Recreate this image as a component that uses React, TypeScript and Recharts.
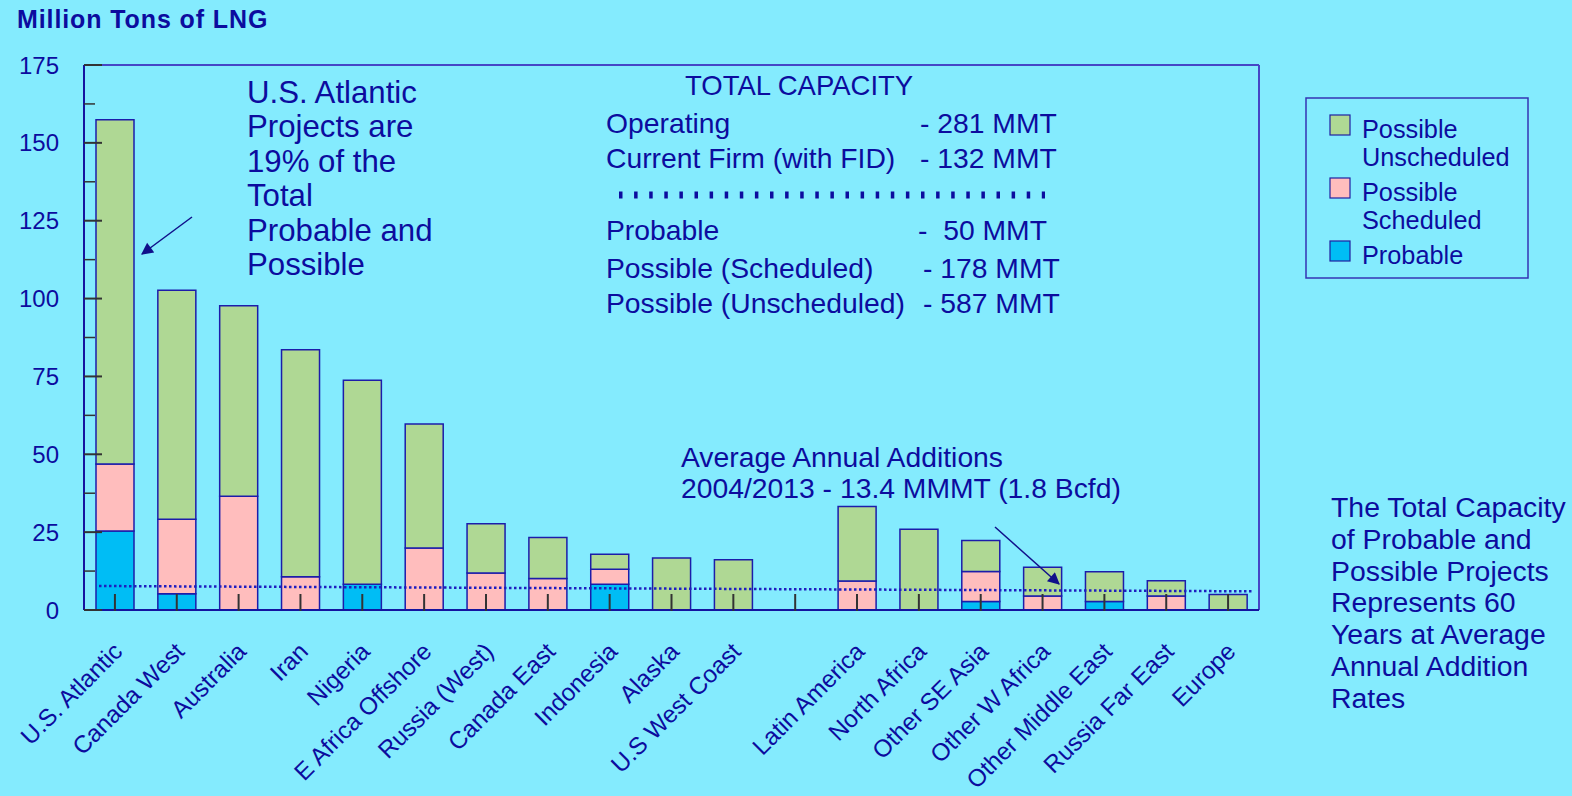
import React from 'react';
import { BarChart, Bar, XAxis, YAxis, ReferenceLine } from 'recharts';

// Regions (the blank one is the gap between North America and the rest)
const categories = [
  'U.S. Atlantic', 'Canada West', 'Australia', 'Iran', 'Nigeria', 'E Africa Offshore',
  'Russia (West)', 'Canada East', 'Indonesia', 'Alaska', 'U.S West Coast', '',
  'Latin America', 'North Africa', 'Other SE Asia', 'Other W Africa', 'Other Middle East',
  'Russia Far East', 'Europe',
];
const probable = [25.4, 5.2, 0, 0, 8.3, 0, 0, 0, 8.3, 0, 0, 0, 0, 0, 2.7, 0, 2.7, 0, 0];
const possibleScheduled = [21.5, 23.9, 36.5, 10.7, 0, 19.9, 11.9, 10.1, 4.8, 0, 0, 0, 9.3, 0, 9.7, 4.5, 0, 4.5, 0];
const possibleUnscheduled = [110.5, 73.6, 61.2, 72.9, 65.5, 39.8, 15.8, 13.2, 4.8, 16.7, 16.1, 0, 23.9, 25.9, 9.9, 9.2, 9.6, 4.9, 5.0];

const yTicks = [0, 12.5, 25, 37.5, 50, 62.5, 75, 87.5, 100, 112.5, 125, 137.5, 150, 162.5, 175];
// average annual additions line (x in category-index units, runs almost edge to edge)
const avgLine = [{ x: 0.23, y: 7.7 }, { x: 17.92, y: 6.0 }];

const NAVY = '#0c0c9e';
const FONT = '"Liberation Sans", Arial, Helvetica, sans-serif';
const BG = '#84EBFE';

const series = [
  { key: 'probable', label: ['Probable'], color: '#00BDF5' },
  { key: 'scheduled', label: ['Possible', 'Scheduled'], color: '#FFBDBD' },
  { key: 'unscheduled', label: ['Possible', 'Unscheduled'], color: '#AFD894' },
];

const data = categories.map((name, i) => ({
  name,
  idx: i,
  probable: probable[i],
  scheduled: possibleScheduled[i],
  unscheduled: possibleUnscheduled[i],
}));
const lastIdx = categories.length - 1;

const XTick = (props: any) => {
  const { x, y, payload } = props;
  return (
    <g>
      <line x1={x} y1={y - 16} x2={x} y2={y + 1} stroke="#333" strokeWidth={2} />
      <text
        x={0}
        y={0}
        transform={`translate(${x + 9},${y + 43}) rotate(-45)`}
        textAnchor="end"
        fill={NAVY}
        fontSize={24.2}
        fontFamily={FONT}
      >
        {payload.value}
      </text>
    </g>
  );
};

const YTick = (props: any) => {
  const { x, y, payload } = props;
  const major = payload.value % 25 === 0;
  return (
    <g>
      <line x1={x} y1={y} x2={x + (major ? 18 : 11)} y2={y} stroke="#333" strokeWidth={major ? 2 : 1.5} />
      {major && (
        <text x={x - 25} y={y} dy="0.36em" textAnchor="end" fill={NAVY} fontSize={24} fontFamily={FONT}>
          {payload.value}
        </text>
      )}
    </g>
  );
};

const Annotations = () => {
  const usLines = ['U.S. Atlantic', 'Projects are', '19% of the', 'Total', 'Probable and', 'Possible'];
  const rightLines = [
    'The Total Capacity', 'of Probable and', 'Possible Projects', 'Represents 60',
    'Years at Average', 'Annual Addition', 'Rates',
  ];
  const capRows = [
    { label: 'Operating', value: '- 281 MMT', y: 133, vx: 920 },
    { label: 'Current Firm (with FID)', value: '- 132 MMT', y: 168, vx: 920 },
    { label: 'Probable', value: '-  50 MMT', y: 240, vx: 918 },
    { label: 'Possible (Scheduled)', value: '- 178 MMT', y: 278, vx: 923 },
    { label: 'Possible (Unscheduled)', value: '- 587 MMT', y: 313, vx: 923 },
  ];
  const legendRows = [...series].reverse();
  return (
    <svg
      width={1572}
      height={796}
      style={{ position: 'absolute', left: 0, top: 0, pointerEvents: 'none' }}
      fontFamily={FONT}
    >
      <defs>
        <marker id="arrow" viewBox="0 0 10 10" refX="9" refY="5" markerWidth="20" markerHeight="12"
          markerUnits="userSpaceOnUse" orient="auto">
          <path d="M0,0 L10,5 L0,10 z" fill="#10108a" />
        </marker>
      </defs>

      <text x={17} y={28} fontSize={25} fontWeight="bold" letterSpacing={0.9} fill={NAVY}>
        Million Tons of LNG
      </text>

      {usLines.map((t, i) => (
        <text key={t} x={247} y={102.7 + i * 34.5} fontSize={31.2} fill={NAVY}>{t}</text>
      ))}
      <line x1={192} y1={217} x2={142} y2={254} stroke="#10108a" strokeWidth={1.5} markerEnd="url(#arrow)" />

      <text x={685} y={95} fontSize={27.5} fill={NAVY}>TOTAL CAPACITY</text>
      {capRows.map((r) => (
        <g key={r.label}>
          <text x={606} y={r.y} fontSize={28.3} fill={NAVY}>{r.label}</text>
          <text x={r.vx} y={r.y} fontSize={28.3} fill={NAVY} style={{ whiteSpace: 'pre' }}>{r.value}</text>
        </g>
      ))}
      <line x1={619} y1={195} x2={1045} y2={195} stroke={NAVY} strokeWidth={7} strokeDasharray="3.5 11.6" />

      <text x={681} y={466.7} fontSize={28.3} fill={NAVY}>Average Annual Additions</text>
      <text x={681} y={498} fontSize={28.3} fill={NAVY}>2004/2013 - 13.4 MMMT (1.8 Bcfd)</text>
      <line x1={995} y1={527} x2={1059} y2={584} stroke="#10108a" strokeWidth={1.5} markerEnd="url(#arrow)" />

      {rightLines.map((t, i) => (
        <text key={t} x={1331} y={516.7 + i * 31.9} fontSize={28.4} fill={NAVY}>{t}</text>
      ))}

      {/* legend */}
      <rect x={1306} y={98} width={222} height={180} fill="none" stroke="#3434b4" strokeWidth={1.5} />
      {legendRows.map((s, i) => {
        const top = [115, 178, 241][i];
        return (
          <g key={s.key}>
            <rect x={1330} y={top} width={20} height={20} fill={s.color} stroke="#2020a0" strokeWidth={1.2} />
            {s.label.map((l, j) => (
              <text key={l} x={1362} y={top + 22.5 + j * 28.6} fontSize={25.3} fill={NAVY}>{l}</text>
            ))}
          </g>
        );
      })}
    </svg>
  );
};

export default function App() {
  return (
    <div style={{ position: 'absolute', left: 0, top: 0, width: 1572, height: 796, background: BG, overflow: 'hidden' }}>
      <BarChart
        width={1572}
        height={796}
        data={data}
        margin={{ top: 65, right: 313, bottom: 36, left: 24 }}
        barSize={38}
      >
        <XAxis
          dataKey="name"
          interval={0}
          tickSize={0}
          tickMargin={0}
          tickLine={false}
          height={150}
          axisLine={{ stroke: '#1414a0', strokeWidth: 2 }}
          tick={(p: any) => <XTick {...p} />}
        />
        <XAxis xAxisId="n" dataKey="idx" type="number" domain={[0, lastIdx]} allowDataOverflow hide />
        <YAxis
          domain={[0, 175]}
          ticks={yTicks}
          interval={0}
          width={60}
          tickSize={0}
          tickMargin={0}
          tickLine={false}
          axisLine={{ stroke: '#1414a0', strokeWidth: 2 }}
          tick={(p: any) => <YTick {...p} />}
        />
        <ReferenceLine y={175} stroke="#4646c6" strokeWidth={2} />
        <ReferenceLine xAxisId="n" x={lastIdx} stroke="#4646c6" strokeWidth={2} />
        {series.map((s) => (
          <Bar
            key={s.key}
            dataKey={s.key}
            stackId="a"
            fill={s.color}
            stroke="#1c1caa"
            strokeWidth={1.5}
            isAnimationActive={false}
          />
        ))}
        <ReferenceLine
          xAxisId="n"
          segment={avgLine}
          stroke="#1e1ec0"
          strokeWidth={2.5}
          strokeDasharray="2.5 2.5"
        />
      </BarChart>
      <Annotations />
    </div>
  );
}
